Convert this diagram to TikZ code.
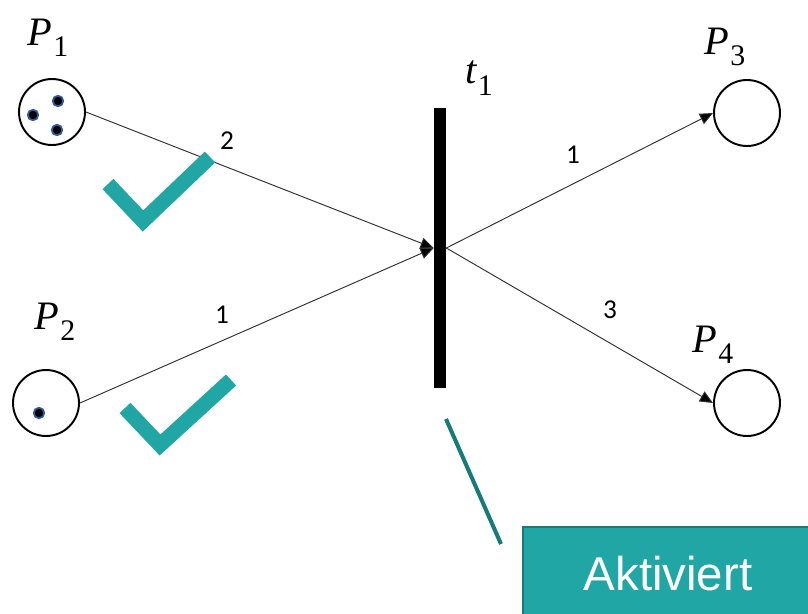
\documentclass[tikz,border=0pt]{standalone}
\usepackage{fontspec}
\setsansfont{Liberation Sans}
\newfontfamily\zahlfont{Carlito}
\newfontfamily\bezfont{Liberation Serif}
\usepackage{tikz}
\usetikzlibrary{arrows.meta}
\definecolor{my_teal}{HTML}{20A6A4}
\definecolor{my_darkteal}{HTML}{167B79}
\definecolor{my_tokenblue}{HTML}{2E5A9C}
\definecolor{my_arcgray}{HTML}{333333}

%% Bezeichner: kursiver Buchstabe mit tiefgestelltem Index
\newcommand{\bez}[2]{\textit{#1}\kern0.5pt\raisebox{-0.28em}{\fontsize{17}{19}\selectfont #2}}

\begin{document}
\begin{tikzpicture}[
    x=0.02cm, y=-0.02cm,
    place/.style={circle, draw=black, line width=1.1pt, minimum size=1.32cm, inner sep=0pt},
    token/.style={circle, fill=black, draw=my_tokenblue, line width=1pt, minimum size=0.21cm, inner sep=0pt},
    trans/.style={rectangle, fill=black, minimum width=0.24cm, minimum height=5.6cm, inner sep=0pt},
    arc/.style={draw=my_arcgray, line width=0.55pt, -{Triangle[length=7.5pt, width=6.5pt, fill=black]}},
    weight/.style={font=\zahlfont\fontsize{15.5}{17}\selectfont},
    plabel/.style={font=\bezfont\fontsize{23}{27}\selectfont},
    haken/.style={draw=my_teal, line width=0.3cm, line join=miter},
    aktivbox/.style={fill=my_teal, draw=my_darkteal, line width=1.2pt, text=white,
        font=\sffamily\fontsize{27}{32}\selectfont, minimum width=5.8cm, minimum height=1.88cm}
]
\useasboundingbox (0,0) rectangle (808,613);

%% ================================================================
%% Stellen (links) mit Marken
%% ================================================================
\node[place] (p1) at (52,112) {};
\node[token] (m1a) at (58,101) {};
\node[token] (m1b) at (33,115) {};
\node[token] (m1c) at (57,130) {};
\node[plabel] (lp1) at (48,38) {\bez{P}{1}};

\node[place] (p2) at (46,403) {};
\node[token] (m2a) at (39,413) {};
\node[plabel] (lp2) at (55,322) {\bez{P}{2}};

%% ================================================================
%% Transition
%% ================================================================
\node[trans] (t1) at (440,248) {};
\node[plabel] (lt1) at (479,78) {\bez{t}{1}};

%% ================================================================
%% Stellen (rechts)
%% ================================================================
\node[place] (p3) at (747,113) {};
\node[plabel] (lp3) at (725,47) {\bez{P}{3}};

\node[place] (p4) at (747,403) {};
\node[plabel] (lp4) at (713,345) {\bez{P}{4}};

%% --- Kanten mit Gewichten ---
\draw[arc] (p1.east) -- (t1.west);
\draw[arc] (p2.east) -- (t1.west);
\draw[arc] (t1.east) -- (p3.west);
\draw[arc] (t1.east) -- (p4.west);

\node[weight] (w1) at (227,141) {2};
\node[weight] (w2) at (222,315) {1};
\node[weight] (w3) at (573,155) {1};
\node[weight] (w4) at (610,310) {3};

%% ================================================================
%% Haken: Vorbedingungen erfuellt
%% ================================================================
\draw[haken] (108,184) -- (143,221) -- (210,157);
\draw[haken] (125,408) -- (160,445) -- (231,380);

%% --- Hinweis: Transition aktiviert ---
\coordinate (hinweis_a) at (446,419);
\coordinate (hinweis_b) at (501,544);
\draw[draw=my_darkteal, line width=2.3pt] (hinweis_a) -- (hinweis_b);

\node[aktivbox] (aktiv) at (668,574) {Aktiviert};

\end{tikzpicture}
\end{document}
